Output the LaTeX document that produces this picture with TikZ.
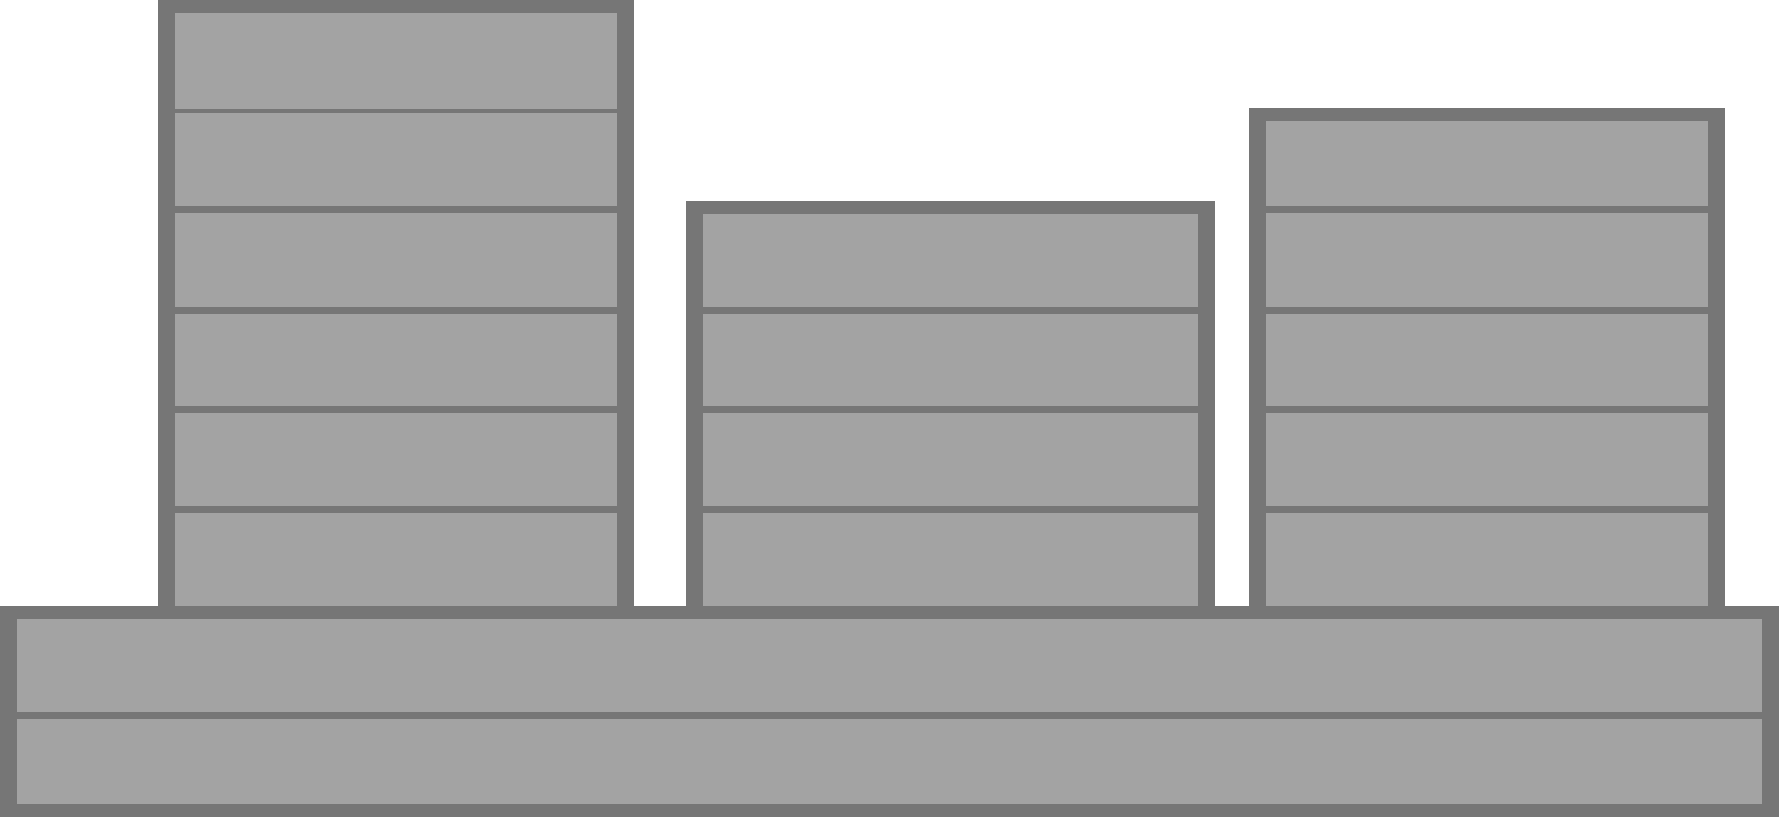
\documentclass[tikz,border=0pt]{standalone}
\definecolor{framegray}{HTML}{767676}
\definecolor{cellgray}{HTML}{A3A3A3}
\tikzset{
  framebox/.style={fill=framegray, draw=none},
  cellbox/.style={fill=cellgray, draw=none}
}
\begin{document}
\begin{tikzpicture}[x=0.5pt, y=-0.5pt]
\useasboundingbox (0,0) rectangle (1779,817);
% left stack
\fill[framebox] (158,0) rectangle (634,606);
\foreach \a/\b in {13/109, 113/206, 213/307, 314/406, 413/506, 513/606}
  \fill[cellbox] (175,\a) rectangle (617,\b);
% middle stack
\fill[framebox] (686,201) rectangle (1215,606);
\foreach \a/\b in {214/307, 314/406, 413/506, 513/606}
  \fill[cellbox] (703,\a) rectangle (1198,\b);
% right stack
\fill[framebox] (1249,108) rectangle (1725,606);
\foreach \a/\b in {121/206, 213/307, 314/406, 413/506, 513/606}
  \fill[cellbox] (1266,\a) rectangle (1708,\b);
% bottom base
\fill[framebox] (0,606) rectangle (1779,817);
\foreach \a/\b in {619/712, 719/804}
  \fill[cellbox] (17,\a) rectangle (1762,\b);
\end{tikzpicture}
\end{document}
